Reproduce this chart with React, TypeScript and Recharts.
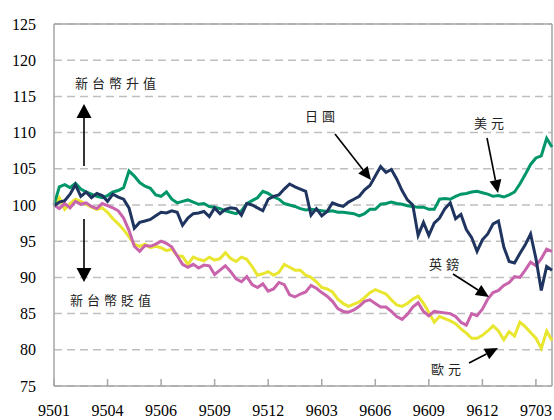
import React from "react"
import { CartesianGrid, Line, LineChart, ReferenceLine, XAxis, YAxis } from "recharts"

// 匯率指數 (9501 = 100)
const tickLabels = ["9501", "9504", "9506", "9509", "9512", "9603", "9606", "9609", "9612", "9703"]
const yTicks = [75, 80, 85, 90, 95, 100, 105, 110, 115, 120, 125]

const usd = [
    100.0, 102.5, 102.8, 102.4, 103.0, 102.2, 101.8, 101.5, 101.2, 101.0,
    101.3, 101.8, 102.0, 102.4, 104.7, 104.0, 103.1, 102.6, 102.3, 101.4,
    101.2, 101.8, 100.8, 100.3, 100.5, 100.7, 100.4, 100.1, 100.2, 99.8,
    99.7, 99.5, 99.2, 99.0, 98.8, 99.2, 100.2, 100.6, 101.0, 101.9,
    101.6, 101.1, 100.8, 100.2, 100.0, 99.8, 99.5, 99.3, 99.4, 99.3,
    99.2, 99.1, 99.2, 99.0, 99.0, 98.9, 98.8, 98.5, 98.8, 99.4,
    99.4, 100.1, 100.2, 100.4, 100.2, 100.1, 99.9, 99.8, 99.7, 99.7,
    99.4, 99.4, 100.8, 100.9, 100.8, 101.2, 101.5, 101.6, 101.8, 101.9,
    101.7, 101.5, 101.2, 101.3, 101.1, 101.4, 101.8, 102.9, 104.2, 105.6,
    106.5, 106.8, 109.2, 108.0,
]

const jpy = [
    99.9, 100.4, 100.6, 101.5, 102.8, 101.2, 101.8, 101.0, 101.6, 101.3,
    100.5, 101.5, 101.1, 100.8, 99.6, 96.8, 97.6, 97.8, 98.0, 98.5,
    99.0, 98.9, 99.2, 99.0, 97.2, 98.2, 98.8, 98.9, 99.1, 98.4,
    99.6, 98.8, 99.4, 99.6, 99.5, 98.6, 100.2, 100.0, 99.6, 99.2,
    100.8, 101.2, 101.4, 102.2, 102.9, 102.5, 102.2, 101.9, 98.6, 99.5,
    98.5, 99.1, 100.3, 100.0, 99.8, 100.4, 100.8, 101.2, 102.1, 102.7,
    104.0, 105.3, 104.5, 104.9, 103.6, 102.0, 100.7, 100.0, 95.8, 97.6,
    95.8, 97.5, 98.2, 99.5, 100.3, 98.1, 98.7, 96.6, 95.5, 93.6,
    95.2, 96.0, 97.4, 97.8, 94.2, 92.2, 92.0, 93.3, 94.5, 96.0,
    92.6, 88.2, 91.5, 91.0,
]

const gbp = [
    100.0, 99.5, 100.2, 99.6, 100.5, 100.1, 100.3, 99.8, 99.5, 100.2,
    99.9, 99.6, 99.2, 98.2, 96.5, 94.3, 93.6, 94.4, 94.3, 94.6,
    95.0, 94.7, 94.2, 93.0, 91.8, 91.4, 91.8, 91.3, 91.7, 91.6,
    90.4, 91.0, 91.6, 90.8, 89.8, 89.4, 90.1, 89.0, 88.6, 89.1,
    88.1, 88.4, 89.3, 89.0, 87.6, 87.3, 87.7, 88.0, 88.9, 88.5,
    87.9, 87.4, 86.7, 85.7, 85.3, 85.2, 85.5, 86.0, 86.7, 86.9,
    86.4, 85.9, 85.9, 85.3, 84.6, 84.2, 84.9, 85.9, 86.5, 85.3,
    84.7, 85.3, 85.2, 85.1, 85.0, 84.6, 83.8, 83.4, 85.0, 84.7,
    85.6, 87.0, 87.9, 88.2, 88.9, 89.3, 90.1, 90.0, 91.0, 92.1,
    91.6, 92.6, 93.9, 93.6,
]

const eur = [
    100.0, 101.0, 99.4, 100.2, 100.8, 100.5, 100.1, 99.7, 99.4, 99.6,
    99.0, 98.1, 97.4, 96.6, 95.6, 94.6, 94.3, 94.6, 94.1, 94.3,
    94.1, 93.7, 93.9, 93.0, 92.9, 91.8, 92.8, 92.5, 92.3, 92.8,
    92.4, 92.6, 93.4, 92.6, 92.2, 92.8, 92.5, 91.5, 90.3, 90.5,
    90.8, 90.3, 90.7, 91.8, 91.4, 91.0, 91.0, 90.3, 90.0, 89.4,
    88.6, 88.4, 88.0, 87.0, 86.4, 86.0, 86.3, 86.6, 87.2, 87.9,
    88.3, 88.0, 87.7, 86.9, 86.2, 86.0, 86.4, 87.0, 87.4, 86.4,
    85.2, 83.8, 84.6, 84.3, 84.0, 83.6, 82.9, 82.3, 81.6, 81.6,
    82.0, 82.6, 83.3, 82.6, 81.4, 82.5, 81.9, 83.8, 83.2, 82.4,
    81.6, 80.2, 82.6, 81.3,
]

const data = usd.map((v, i) => ({ i, usd: v, jpy: jpy[i], gbp: gbp[i], eur: eur[i] }))
const lastIndex = usd.length - 1
const xTicks = tickLabels.map((_, k) => k * 10)

const frame = "#A6A6A6"
const serif = "'Liberation Serif', 'Times New Roman', serif"
const cjk = "'Noto Sans CJK TC', 'Noto Sans CJK SC', sans-serif"
const tickStyle = { fill: "#000", fontSize: 16, fontFamily: serif, style: { fontFamily: serif } }

type ArrowProps = { x1: number; y1: number; x2: number; y2: number; head?: number; width?: number }

// 細線 + 實心三角箭頭
function Arrow({ x1, y1, x2, y2, head = 13, width = 12 }: ArrowProps) {
    const len = Math.hypot(x2 - x1, y2 - y1)
    const ux = (x2 - x1) / len
    const uy = (y2 - y1) / len
    const bx = x2 - ux * head
    const by = y2 - uy * head
    const px = -uy * width / 2
    const py = ux * width / 2
    return (
        <g>
            <line x1={x1} y1={y1} x2={bx} y2={by} stroke="#000" strokeWidth={1.6} />
            <polygon points={`${x2},${y2} ${bx + px},${by + py} ${bx - px},${by - py}`} fill="#000" />
        </g>
    )
}

function Note({ x, y, text }: { x: number; y: number; text: string }) {
    return (
        <text x={x} y={y} fontFamily={cjk} fontSize={13} letterSpacing={4} fill="#222" dominantBaseline="central">
            {text}
        </text>
    )
}

export default function App() {
    return (
        <div style={{ position: "absolute", left: 0, top: 0, width: 554, height: 420, background: "#fff", fontFamily: serif }}>
            <LineChart width={554} height={420} data={data} margin={{ top: 24, right: 2, bottom: 0, left: 0 }}>
                <CartesianGrid vertical={false} stroke="#BFBFBF" strokeWidth={1.5} strokeDasharray="8 5" />
                <XAxis
                    dataKey="i"
                    type="number"
                    domain={[0, lastIndex]}
                    ticks={xTicks}
                    tickFormatter={(v: number) => tickLabels[v / 10] ?? ""}
                    interval={0}
                    height={34}
                    stroke={frame}
                    strokeWidth={1.5}
                    tickSize={-7}
                    tickMargin={26}
                    tick={tickStyle}
                />
                <YAxis
                    domain={[75, 125]}
                    ticks={yTicks}
                    interval={0}
                    width={54}
                    stroke={frame}
                    strokeWidth={1.5}
                    tickLine={false}
                    tickSize={0}
                    tickMargin={18}
                    tick={tickStyle}
                />
                <ReferenceLine y={125} stroke={frame} strokeWidth={1.5} />
                <ReferenceLine x={lastIndex} stroke={frame} strokeWidth={1.5} />
                <Line type="linear" dataKey="eur" stroke="#E8E62E" strokeWidth={3} dot={false} isAnimationActive={false} />
                <Line type="linear" dataKey="gbp" stroke="#C964AC" strokeWidth={3} dot={false} isAnimationActive={false} />
                <Line type="linear" dataKey="usd" stroke="#00966A" strokeWidth={3} dot={false} isAnimationActive={false} />
                <Line type="linear" dataKey="jpy" stroke="#1F3560" strokeWidth={3} dot={false} isAnimationActive={false} />
            </LineChart>
            <svg width={554} height={420} style={{ position: "absolute", left: 0, top: 0, pointerEvents: "none" }}>
                <Note x={75} y={82} text="新台幣升值" />
                <Arrow x1={84} y1={166} x2={84} y2={104} head={14} width={15} />
                <Note x={70} y={299} text="新台幣貶值" />
                <Arrow x1={84} y1={219} x2={84} y2={282} head={14} width={15} />
                <Note x={305} y={115} text="日圓" />
                <Arrow x1={335} y1={134} x2={371} y2={180} />
                <Note x={474} y={122} text="美元" />
                <Arrow x1={487} y1={138} x2={498} y2={193} />
                <Note x={429} y={263} text="英鎊" />
                <Arrow x1={453} y1={274} x2={489} y2={297} />
                <Note x={431} y={368} text="歐元" />
                <Arrow x1={469} y1={363} x2={498} y2={348} />
            </svg>
        </div>
    )
}
